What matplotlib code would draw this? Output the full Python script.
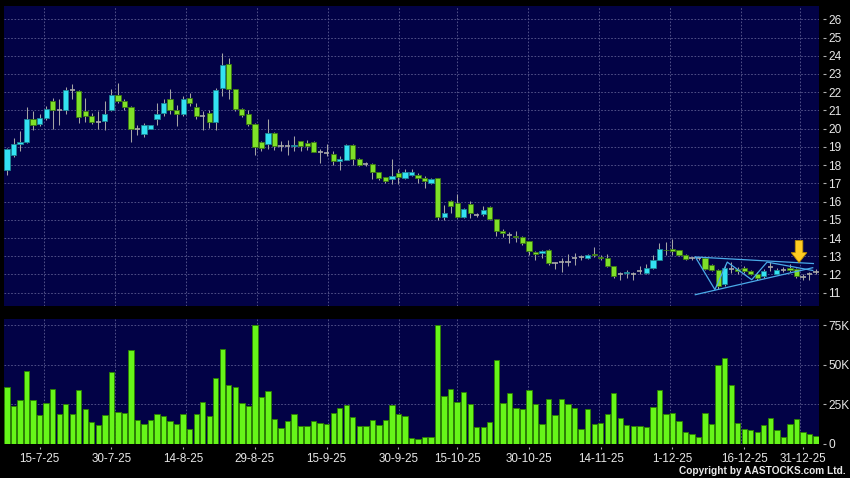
import numpy as np
import matplotlib
matplotlib.use("Agg")
import matplotlib.pyplot as plt
from matplotlib.patches import Polygon

plt.rcParams['font.family'] = ['Liberation Sans', 'DejaVu Sans']

# daily candles, 8-7-25 .. 5-1-26
opens = [17.72, 18.57, 19.17, 19.25, 20.55, 20.28, 20.6, 21.5, 21.05, 21.05,
         22.1, 22.05, 20.95, 20.68, 20.37, 20.4, 21.0, 21.85, 21.5, 21.2,
         20.0, 19.72, 20.0, 20.55, 20.87, 21.65, 21.05, 20.82, 21.7, 21.2,
         20.72, 20.87, 20.38, 22.25, 23.53, 22.15, 21.1, 20.78, 20.28, 19.25,
         19.16, 19.77, 19.05, 19.05, 19.04, 19.3, 19.22, 19.28, 18.71, 18.67,
         18.63, 18.25, 18.3, 19.13, 18.34, 18.06, 18.06, 17.6, 17.33, 17.24,
         17.57, 17.29, 17.48, 17.44, 17.29, 17.02, 17.3, 15.15, 16.05, 15.92,
         15.18, 15.89, 15.28, 15.31, 15.7, 15.04, 14.36, 14.17, 14.12, 14.08,
         13.81, 13.26, 13.17, 13.35, 12.65, 12.66, 12.7, 12.93, 12.96, 12.93,
         13.15, 12.95, 12.93, 12.45, 12.0, 12.1, 12.0, 12.19, 12.08, 12.38,
         12.82, 13.35, 13.37, 13.33, 13.09, 12.93, 12.93, 12.93, 12.5, 12.27,
         11.5, 12.32, 12.32, 12.36, 12.17, 12.05, 11.9, 12.41, 12.05, 12.27,
         12.36, 12.32, 11.86, 12.0, 12.14]
highs = [18.92, 19.5, 19.85, 21.2, 20.95, 20.8, 21.25, 21.7, 21.6, 22.3,
         22.45, 22.1, 21.7, 20.85, 20.95, 21.5, 22.2, 22.5, 21.62, 21.25,
         20.2, 20.3, 20.22, 21.4, 21.62, 22.2, 21.3, 21.8, 21.97, 21.42,
         20.95, 21.05, 22.25, 24.13, 23.9, 22.2, 21.15, 21.0, 20.3, 19.3,
         20.55, 19.8, 19.3, 19.4, 19.62, 19.33, 19.4, 19.3, 18.9, 19.18,
         18.76, 18.5, 19.18, 19.18, 18.4, 18.15, 18.1, 17.62, 17.35, 18.34,
         17.8, 17.8, 17.79, 17.57, 17.38, 17.29, 17.3, 15.83, 16.1, 16.43,
         15.62, 16.05, 15.4, 15.77, 15.73, 15.05, 14.48, 14.35, 14.41, 14.1,
         13.85, 13.3, 13.35, 13.37, 12.7, 12.93, 13.15, 13.18, 13.05, 13.15,
         13.5, 13.05, 13.1, 12.48, 12.14, 12.23, 12.14, 12.45, 12.56, 13.05,
         13.73, 13.8, 13.92, 13.35, 13.12, 12.98, 12.98, 12.95, 12.6, 12.3,
         12.5, 12.69, 12.4, 12.45, 12.25, 12.14, 12.3, 12.69, 12.35, 12.4,
         12.6, 12.36, 12.0, 12.14, 12.3]
lows = [17.47, 18.45, 18.8, 19.2, 19.9, 20.15, 20.5, 20.0, 20.2, 20.8,
        21.65, 20.3, 20.35, 20.28, 20.0, 19.95, 20.95, 21.4, 21.0, 19.25,
        19.65, 19.55, 19.98, 20.2, 20.72, 20.78, 20.13, 20.72, 21.27, 20.54,
        19.95, 20.04, 19.9, 21.8, 21.65, 20.95, 20.65, 20.17, 18.55, 18.8,
        18.9, 18.85, 18.75, 18.58, 18.8, 18.8, 18.85, 18.7, 18.12, 18.52,
        18.0, 17.75, 18.27, 18.03, 17.94, 17.94, 17.24, 17.2, 17.0, 16.98,
        16.98, 17.24, 17.38, 17.0, 16.74, 16.98, 15.0, 15.0, 15.37, 15.1,
        15.1, 15.1, 15.15, 15.22, 15.0, 14.12, 14.05, 13.75, 13.8, 13.62,
        13.07, 12.8, 12.89, 12.5, 12.28, 12.15, 12.45, 12.5, 12.8, 12.85,
        12.95, 12.78, 12.4, 11.83, 11.72, 11.83, 11.72, 12.0, 12.0, 12.32,
        12.8, 13.05, 13.05, 13.0, 12.78, 12.8, 12.8, 12.23, 12.2, 11.22,
        11.35, 12.1, 12.05, 12.1, 11.98, 11.72, 11.83, 12.2, 12.0, 12.15,
        12.15, 11.83, 11.72, 11.72, 12.0]
closes = [18.9, 19.16, 19.27, 20.55, 20.2, 20.6, 21.1, 21.0, 21.05, 22.1,
          22.1, 20.65, 20.7, 20.38, 20.37, 20.8, 21.85, 21.5, 21.2, 20.0,
          20.0, 20.2, 20.2, 20.8, 21.42, 21.05, 20.82, 21.65, 21.42, 20.68,
          20.72, 20.38, 22.1, 23.47, 22.15, 21.1, 20.75, 20.27, 18.97, 18.95,
          19.77, 19.03, 19.05, 19.05, 19.12, 19.07, 19.05, 18.72, 18.71, 18.67,
          18.21, 18.34, 19.1, 18.34, 18.03, 18.06, 17.62, 17.3, 17.11, 17.39,
          17.35, 17.6, 17.6, 17.29, 17.15, 17.24, 15.15, 15.37, 15.77, 15.15,
          15.6, 15.37, 15.28, 15.55, 15.04, 14.36, 14.3, 14.17, 14.03, 13.72,
          13.31, 13.13, 13.29, 12.61, 12.65, 12.66, 12.7, 12.93, 12.96, 13.09,
          13.05, 12.93, 12.45, 11.9, 12.0, 12.14, 12.0, 12.19, 12.38, 12.82,
          13.37, 13.33, 13.28, 13.09, 12.85, 12.93, 12.93, 12.32, 12.27, 11.35,
          12.36, 12.32, 12.17, 12.17, 12.05, 11.83, 12.17, 12.41, 12.27, 12.27,
          12.23, 11.9, 11.86, 12.0, 12.14]
# volume in thousands of shares
volumes = [36.1, 23.6, 27.8, 45.9, 27.4, 18.3, 25.9, 34.8, 18.5, 25.3,
           18.7, 34.0, 21.9, 14.0, 11.7, 18.3, 45.3, 19.8, 19.5, 59.3,
           15.1, 12.5, 14.7, 18.9, 17.4, 14.4, 12.5, 18.7, 9.3, 18.7,
           26.6, 17.6, 41.9, 60.1, 37.4, 35.7, 25.7, 23.6, 75.0, 29.7,
           33.4, 15.9, 9.8, 14.2, 18.7, 11.5, 11.5, 14.2, 13.2, 12.5,
           19.5, 22.3, 24.4, 16.6, 11.3, 11.5, 15.1, 11.9, 14.9, 24.4,
           18.9, 17.6, 3.8, 3.2, 4.2, 4.2, 75.4, 30.2, 34.6, 26.3,
           32.7, 24.9, 10.4, 10.8, 14.0, 52.9, 25.5, 32.3, 22.9, 21.7,
           34.0, 25.1, 12.5, 28.3, 18.1, 28.3, 25.1, 22.7, 9.1, 21.7,
           12.3, 13.2, 18.7, 32.1, 16.1, 11.9, 11.0, 11.3, 10.8, 23.4,
           34.2, 19.1, 19.5, 14.4, 7.2, 5.9, 4.2, 19.5, 12.3, 49.9,
           54.6, 37.0, 13.2, 9.3, 8.5, 7.4, 11.9, 16.4, 8.7, 4.2,
           12.7, 15.9, 7.2, 6.2, 4.9]

date_idx = [5, 16, 27, 38, 49, 60, 69, 80, 91, 102, 113, 122]
date_labels = ['15-7-25', '30-7-25', '14-8-25', '29-8-25', '15-9-25', '30-9-25',
               '15-10-25', '30-10-25', '14-11-25', '1-12-25', '16-12-25', '31-12-25']
price_ticks = list(range(11, 27))
vol_ticks = [0, 25, 50, 75]
vol_labels = ['0', '25K', '50K', '75K']

# drawn triangle pattern (bar index, price)
upper_line = ([105.5, 123.6], [12.96, 12.6])
lower_line = ([105.5, 123.5], [10.89, 12.37])
zigzag_x = [105.5, 108.5, 110.4, 114.15, 116.5, 123.5]
zigzag_y = [12.96, 11.17, 12.68, 11.71, 12.68, 12.22]
arrow_x, arrow_top, arrow_neck, arrow_tip = 121.4, 13.86, 13.2, 12.65

O = np.array(opens); H = np.array(highs); L = np.array(lows); C = np.array(closes)
V = np.array(volumes)
x = np.arange(len(O))
up = C > O
dn = C < O
flat = C == O

navy = '#020246'
grid_kw = dict(color='#5c5c92', lw=0.6, ls=(0, (2, 2)))

fig = plt.figure(figsize=(8.5, 4.78), dpi=100, facecolor='black')
ax = fig.add_axes([4/850, 1-306/478, 815/850, 300/478])
axv = fig.add_axes([4/850, 1-443.7/478, 815/850, 124.7/478], sharex=ax)

for a in (ax, axv):
    a.set_facecolor(navy)
    for s in a.spines.values():
        s.set_visible(False)
    a.spines['right'].set_position(('outward', 3.1))
    a.yaxis.tick_right()
    a.tick_params(axis='y', length=2.4, width=0.8, color='#b0b0b0', pad=1.2,
                  labelcolor='#e8e8e8', labelsize=8.6)
    # vertical grid sits slightly off the date ticks in the original
    for t in date_idx:
        a.axvline(0.661 + 0.9903*t, zorder=1, **grid_kw)

# price panel
ax.set_yticks(price_ticks)
ax.set_ylim(10.27, 26.73)
ax.grid(axis='y', zorder=1, **grid_kw)
ax.vlines(x, L, H, color='#a4a4a4', lw=0.75, zorder=2)
ax.bar(x[up], (C-O)[up], bottom=O[up], width=0.8, color='#33e2f2',
       edgecolor='#1c8796', lw=0.6, zorder=3)
ax.bar(x[dn], (O-C)[dn], bottom=C[dn], width=0.8, color='#7fe028',
       edgecolor='#3b7a12', lw=0.6, zorder=3)
ax.hlines(C[flat], x[flat]-0.4, x[flat]+0.4, color='#a8a8a8', lw=1.2, zorder=3)

tl = '#4aaae8'
ax.plot(*upper_line, color=tl, lw=0.9, zorder=4)
ax.plot(*lower_line, color=tl, lw=0.9, zorder=4)
ax.plot(zigzag_x, zigzag_y, color=tl, lw=0.9, zorder=4)
sw, hw = 0.58, 1.2
arrow = Polygon([[arrow_x-sw, arrow_top], [arrow_x+sw, arrow_top],
                 [arrow_x+sw, arrow_neck], [arrow_x+hw, arrow_neck],
                 [arrow_x, arrow_tip], [arrow_x-hw, arrow_neck],
                 [arrow_x-sw, arrow_neck]], closed=True,
                facecolor='#ffcc22', edgecolor='#b88a00', lw=0.6, zorder=5)
ax.add_patch(arrow)
ax.tick_params(axis='x', bottom=False, labelbottom=False)

# volume panel
axv.set_ylim(0, 79)
axv.set_yticks(vol_ticks)
axv.set_yticklabels(vol_labels)
axv.grid(axis='y', zorder=1, **grid_kw)
axv.bar(x, V, width=0.82, color='#66f519', edgecolor='#2c8000', lw=0.6, zorder=3)
axv.spines['bottom'].set_position(('outward', 2.6))
axv.set_xticks(date_idx)
axv.set_xticklabels(date_labels)
axv.tick_params(axis='x', length=1.6, width=0.8, color='#b0b0b0', pad=2.2,
                labelcolor='#e8e8e8', labelsize=8.4)
axv.set_xlim(-0.46, len(O) - 0.54)

fig.text(846/850, 1-471.5/478, 'Copyright by AASTOCKS.com Ltd.', color='#e8e8e8',
         fontsize=7.3, ha='right', va='center', fontweight='bold')

fig.savefig('out.png', dpi=100, facecolor='black')
